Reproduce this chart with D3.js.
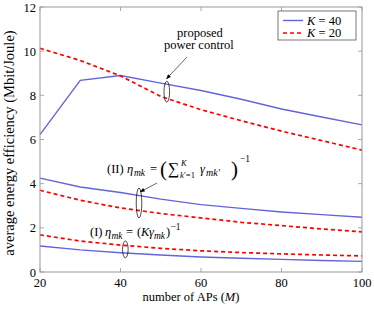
<!DOCTYPE html>
<html>
<head>
<meta charset="utf-8">
<script src="https://cdn.jsdelivr.net/npm/d3@7"></script>
<style>
  body { margin: 0; background: #fff; }
  text { font-family: "Liberation Serif", "DejaVu Serif", serif; fill: #000; }
</style>
</head>
<body>
<svg width="374" height="310"></svg>
<script>
// values
var aps = [20, 30, 40, 50, 60, 70, 80, 90, 100];
var prop40 = [6.22, 8.68, 8.9, 8.55, 8.22, 7.82, 7.38, 7.02, 6.66];
var prop20 = [10.13, 9.58, 8.88, 7.95, 7.35, 6.85, 6.38, 5.95, 5.52];
var sum40 = [4.25, 3.85, 3.6, 3.3, 3.05, 2.88, 2.72, 2.6, 2.48];
var sum20 = [3.7, 3.25, 2.9, 2.65, 2.45, 2.25, 2.1, 1.95, 1.82];
var kg20 = [1.68, 1.4, 1.22, 1.07, 0.96, 0.88, 0.82, 0.77, 0.73];
var kg40 = [1.18, 1.0, 0.87, 0.77, 0.68, 0.62, 0.57, 0.52, 0.48];
var xTicks = [20, 40, 60, 80, 100];
var yTicks = [0, 2, 4, 6, 8, 10, 12];

var blue = "#6464d8", red = "#ff0000";

var svg = d3.select("svg");
var pL = 40, pR = 362, pT = 7, pB = 272;

var x = d3.scaleLinear().domain([20, 100]).range([pL, pR]);
var y = d3.scaleLinear().domain([0, 12]).range([pB, pT]);

var line = d3.line()
    .x(function(d, i) { return x(aps[i]); })
    .y(function(d) { return y(d); });

// ticks, inside on all four sides
var g = svg.append("g");
var tickC = "#aaa";
xTicks.forEach(function(t) {
  g.append("line").attr("x1", x(t)).attr("x2", x(t)).attr("y1", pB).attr("y2", pB - 4).attr("stroke", tickC);
  g.append("line").attr("x1", x(t)).attr("x2", x(t)).attr("y1", pT).attr("y2", pT + 4).attr("stroke", tickC);
  g.append("text").attr("x", x(t)).attr("y", pB + 15).attr("text-anchor", "middle")
    .style("font-size", "12.5px").text(t);
});
yTicks.forEach(function(t) {
  g.append("line").attr("x1", pL).attr("x2", pL + 4).attr("y1", y(t)).attr("y2", y(t)).attr("stroke", tickC);
  g.append("line").attr("x1", pR).attr("x2", pR - 4).attr("y1", y(t)).attr("y2", y(t)).attr("stroke", tickC);
  g.append("text").attr("x", pL - 4).attr("y", y(t) + 4.5).attr("text-anchor", "end")
    .style("font-size", "12.5px").text(t);
});

// curves
var curves = [
  {d: prop40, c: blue, dash: null},
  {d: prop20, c: red, dash: "4,3"},
  {d: sum40, c: blue, dash: null},
  {d: sum20, c: red, dash: "4,3"},
  {d: kg20, c: red, dash: "4,3"},
  {d: kg40, c: blue, dash: null}
];
curves.forEach(function(cv) {
  svg.append("path").datum(cv.d)
    .attr("d", line)
    .attr("fill", "none")
    .attr("stroke", cv.c)
    .attr("stroke-width", cv.dash ? 1.7 : 1.4)
    .attr("stroke-dasharray", cv.dash);
});

// frame
svg.append("rect").attr("x", pL).attr("y", pT).attr("width", pR - pL).attr("height", pB - pT)
  .attr("fill", "none").attr("stroke", "#999").attr("stroke-width", 1);

// axis titles
svg.append("text").attr("x", 191).attr("y", 301).attr("text-anchor", "middle")
  .style("font-size", "12.5px")
  .html('number of APs (<tspan font-style="italic">M</tspan>)');
svg.append("text").attr("transform", "translate(14,143) rotate(-90)")
  .attr("text-anchor", "middle").style("font-size", "14.5px")
  .text("average energy efficiency (Mbit/Joule)");

// legend
var lg = svg.append("g");
lg.append("rect").attr("x", 278).attr("y", 11).attr("width", 78).attr("height", 29)
  .attr("fill", "#fff").attr("stroke", "#555").attr("stroke-width", 0.8);
[{c: blue, dash: null, v: "40", yy: 20.5}, {c: red, dash: "4,3", v: "20", yy: 33}].forEach(function(e) {
  lg.append("line").attr("x1", 283).attr("x2", 303).attr("y1", e.yy).attr("y2", e.yy)
    .attr("stroke", e.c).attr("stroke-width", e.dash ? 1.7 : 1.4).attr("stroke-dasharray", e.dash);
  lg.append("text").attr("x", 307).attr("y", e.yy + 4.3).style("font-size", "12.5px")
    .html('<tspan font-style="italic">K</tspan> = ' + e.v);
});

// annotations
function ellipse(cx, cy, ry) {
  svg.append("ellipse").attr("cx", cx).attr("cy", cy).attr("rx", 2.8).attr("ry", ry)
    .attr("fill", "none").attr("stroke", "#000").attr("stroke-width", 0.7);
}
function arrow(x1, y1, x2, y2) {
  svg.append("line").attr("x1", x1).attr("y1", y1).attr("x2", x2).attr("y2", y2)
    .attr("stroke", "#000").attr("stroke-width", 0.6);
  var a = Math.atan2(y2 - y1, x2 - x1), L = 5, w = 0.4;
  svg.append("path")
    .attr("d", "M" + x2 + "," + y2 +
      "L" + (x2 - L * Math.cos(a - w)) + "," + (y2 - L * Math.sin(a - w)) +
      "L" + (x2 - L * Math.cos(a + w)) + "," + (y2 - L * Math.sin(a + w)) + "Z")
    .attr("fill", "#000");
}
// piece of text at an absolute spot
function put(t, px, py, size, italic) {
  svg.append("text").attr("x", px).attr("y", py).style("font-size", size + "px")
    .style("font-style", italic ? "italic" : "normal").text(t);
}

put("proposed", 177, 36.5, 12.5);
put("power control", 164, 49, 12.5);
ellipse(x(51.5), (y(8.48) + y(7.85)) / 2, 10.5);
arrow(187, 57, x(51.5) - 0.5, 79);

// (II) label
var b2 = 173;
put("(II)", 107, b2, 12.5);
put("η", 127, b2, 12.5, true);
put("mk", 134, b2 + 2.5, 9.5, true);
put("=", 150, b2, 12.5);
put("(", 160, b2 + 3, 21);
put("∑", 168, b2 + 1, 16);
put("K", 181, b2 - 7, 8.5, true);
put("k", 180, b2 + 5, 8.5, true);
put("′=1", 184, b2 + 5, 8.5);
put("γ", 200, b2, 12.5, true);
put("mk′", 206, b2 + 2.5, 10, true);
put(")", 231, b2 + 3, 21);
put("−1", 240, b2 - 11, 9.5);
ellipse(x(44.6), (y(3.47) + y(2.78)) / 2, 15);
arrow(157, 183, x(44.6) + 1, 192);

// (I) label
var b1 = 236;
put("(I)", 90, b1, 12.5);
put("η", 105, b1, 12.5, true);
put("mk", 111.5, b1 + 2.5, 9.5, true);
put("=", 126, b1, 12.5);
put("(", 137, b1, 12.5);
put("K", 141, b1, 12.5, true);
put("γ", 149, b1, 12.5, true);
put("mk", 154, b1 + 2.5, 9.5, true);
put(")", 166, b1, 12.5);
put("−1", 170.5, b1 - 6, 9.5);
ellipse(x(41.2), (y(1.2) + y(0.85)) / 2, 8.5);
</script>
</body>
</html>
